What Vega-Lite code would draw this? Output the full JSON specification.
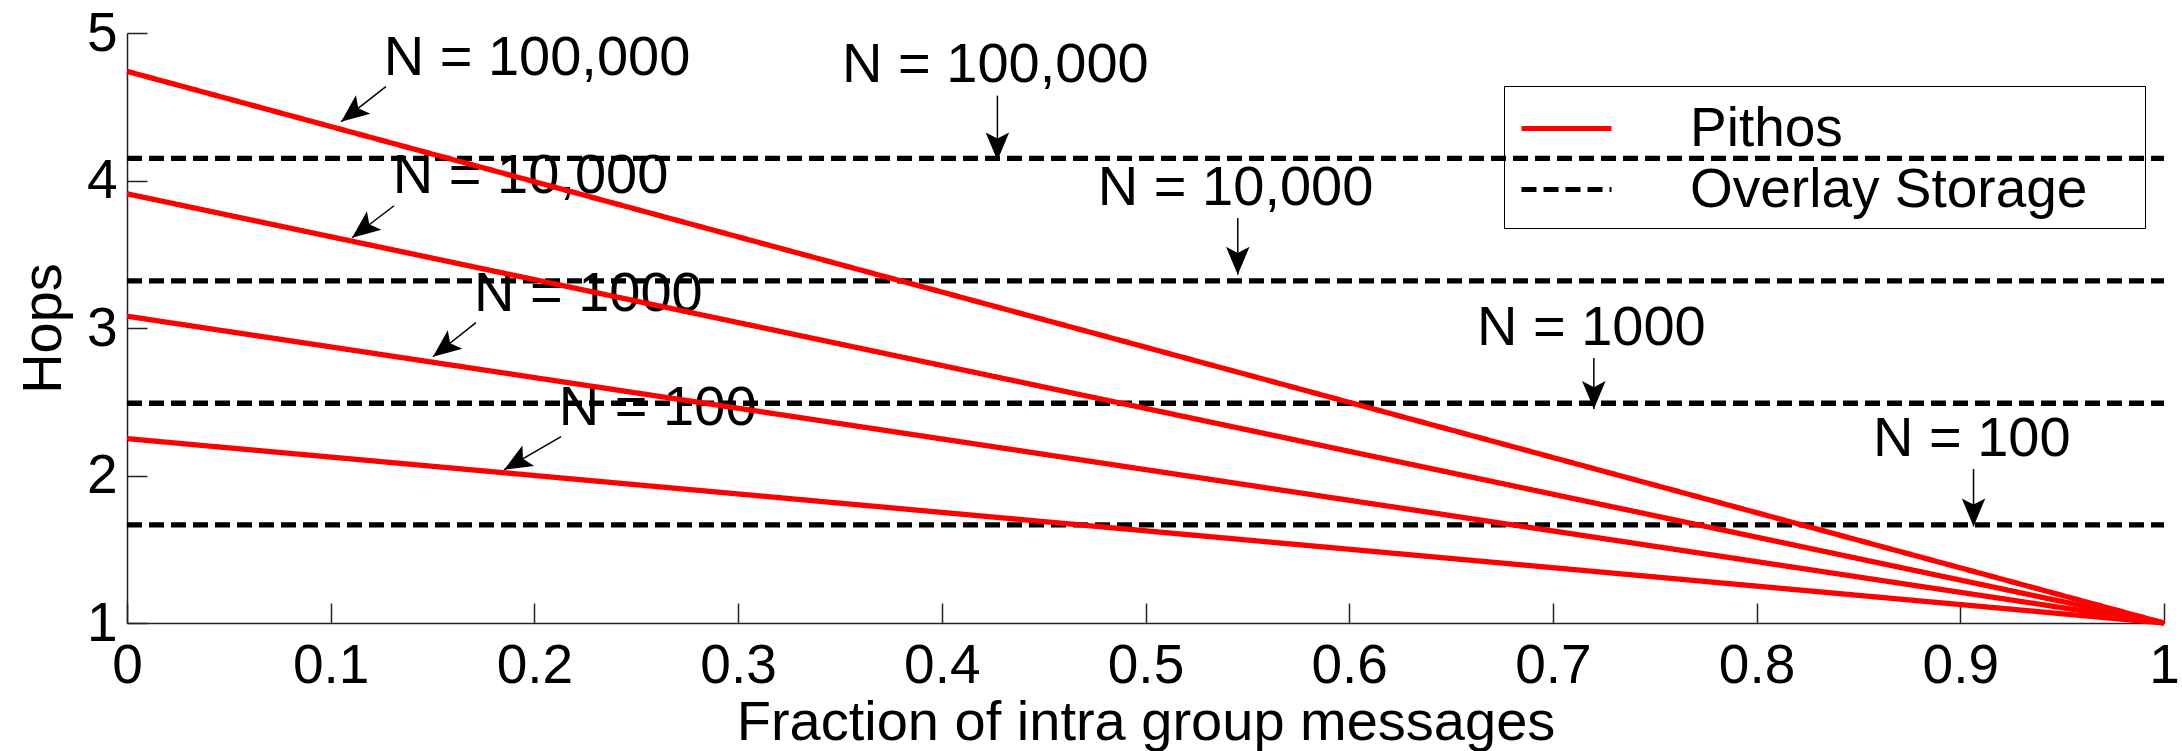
{
  "$schema": "https://vega.github.io/schema/vega-lite/v6.json",
  "width": 2037,
  "height": 590,
  "autosize": {"type": "none"},
  "padding": {"left": 127, "top": 33, "right": 18, "bottom": 128},
  "background": "white",
  "config": {
    "view": {"stroke": null},
    "font": "Liberation Sans",
    "axisX": {
      "labelFontSize": 55,
      "labelColor": "black",
      "tickSize": -20,
      "labelPadding": 36,
      "labelFlush": false,
      "labelOverlap": false,
      "grid": false,
      "domainColor": "#222",
      "tickColor": "#222",
      "domainWidth": 1.5,
      "tickWidth": 1.5,
      "titleFontSize": 56,
      "titleFontWeight": "normal",
      "titleColor": "black",
      "titlePadding": 2
    },
    "axisY": {
      "labelFontSize": 55,
      "labelColor": "black",
      "tickSize": -20,
      "labelPadding": 30,
      "labelFlush": false,
      "labelOverlap": false,
      "grid": false,
      "domainColor": "#222",
      "tickColor": "#222",
      "domainWidth": 1.5,
      "tickWidth": 1.5,
      "titleFontSize": 56,
      "titleFontWeight": "normal",
      "titleColor": "black",
      "titlePadding": 14
    }
  },
  "datasets": {
    "lines": [
      {"method": "Overlay Storage", "N": 100000, "x": 0, "y": 4.15},
      {"method": "Overlay Storage", "N": 100000, "x": 1, "y": 4.15},
      {"method": "Overlay Storage", "N": 10000, "x": 0, "y": 3.32},
      {"method": "Overlay Storage", "N": 10000, "x": 1, "y": 3.32},
      {"method": "Overlay Storage", "N": 1000, "x": 0, "y": 2.49},
      {"method": "Overlay Storage", "N": 1000, "x": 1, "y": 2.49},
      {"method": "Overlay Storage", "N": 100, "x": 0, "y": 1.665},
      {"method": "Overlay Storage", "N": 100, "x": 1, "y": 1.665},
      {"method": "Pithos", "N": 100000, "x": 0, "y": 4.74},
      {"method": "Pithos", "N": 100000, "x": 1, "y": 1},
      {"method": "Pithos", "N": 10000, "x": 0, "y": 3.91},
      {"method": "Pithos", "N": 10000, "x": 1, "y": 1},
      {"method": "Pithos", "N": 1000, "x": 0, "y": 3.08},
      {"method": "Pithos", "N": 1000, "x": 1, "y": 1},
      {"method": "Pithos", "N": 100, "x": 0, "y": 2.25},
      {"method": "Pithos", "N": 100, "x": 1, "y": 1}
    ],
    "labels": [
      {"group": "Pithos", "label": "N = 100,000", "x": 0.126, "y": 4.717},
      {"group": "Pithos", "label": "N = 10,000", "x": 0.1305, "y": 3.917},
      {"group": "Pithos", "label": "N = 1000", "x": 0.1703, "y": 3.117},
      {"group": "Pithos", "label": "N = 100", "x": 0.212, "y": 2.344},
      {"group": "Overlay Storage", "label": "N = 100,000", "x": 0.351, "y": 4.665},
      {"group": "Overlay Storage", "label": "N = 10,000", "x": 0.4766, "y": 3.831},
      {"group": "Overlay Storage", "label": "N = 1000", "x": 0.6627, "y": 2.882},
      {"group": "Overlay Storage", "label": "N = 100", "x": 0.8571, "y": 2.129}
    ],
    "arrows": [
      {"group": "Pithos", "N": 100000, "xs": 0.1271, "ys": 4.636, "x": 0.1051, "y": 4.399},
      {"group": "Pithos", "N": 10000, "xs": 0.1311, "ys": 3.829, "x": 0.1105, "y": 3.612},
      {"group": "Pithos", "N": 1000, "xs": 0.1713, "ys": 3.036, "x": 0.1502, "y": 2.805},
      {"group": "Pithos", "N": 100, "xs": 0.2131, "ys": 2.263, "x": 0.1851, "y": 2.039},
      {"group": "Overlay Storage", "N": 100000, "xs": 0.4273, "ys": 4.575, "x": 0.4273, "y": 4.136},
      {"group": "Overlay Storage", "N": 10000, "xs": 0.5453, "ys": 3.746, "x": 0.5453, "y": 3.361},
      {"group": "Overlay Storage", "N": 1000, "xs": 0.7201, "ys": 2.797, "x": 0.7201, "y": 2.451},
      {"group": "Overlay Storage", "N": 100, "xs": 0.9065, "ys": 2.044, "x": 0.9065, "y": 1.655}
    ]
  },
  "encoding": {
    "x": {
      "field": "x", "type": "quantitative", "title": "Fraction of intra group messages",
      "scale": {"domain": [0, 1], "nice": false, "zero": false},
      "axis": {"values": [0, 0.1, 0.2, 0.3, 0.4, 0.5, 0.6, 0.7, 0.8, 0.9, 1], "format": "~g"}
    },
    "y": {
      "field": "y", "type": "quantitative", "title": "Hops",
      "scale": {"domain": [1, 5], "nice": false, "zero": false},
      "axis": {"values": [1, 2, 3, 4, 5], "format": "d"}
    }
  },
  "layer": [
    {
      "data": {"name": "labels"},
      "mark": {"type": "text", "align": "left", "baseline": "alphabetic", "fontSize": 56, "color": "black"},
      "encoding": {"text": {"field": "label"}}
    },
    {
      "data": {"name": "arrows"},
      "mark": {"type": "rule", "color": "black", "strokeWidth": 1.5},
      "encoding": {"x2": {"field": "xs"}, "y2": {"field": "ys"}}
    },
    {
      "data": {"name": "arrows"},
      "transform": [{"filter": "datum.group == 'Overlay Storage'"}],
      "mark": {"type": "point", "shape": "M0,0L-0.42,-1L0,-0.78L0.42,-1Z", "filled": true, "color": "black", "opacity": 1, "size": 3136, "angle": 0}
    },
    {
      "data": {"name": "arrows"},
      "transform": [{"filter": "datum.group == 'Pithos' && datum.N != 100"}],
      "mark": {"type": "point", "shape": "M0,0L-0.42,-1L0,-0.78L0.42,-1Z", "filled": true, "color": "black", "opacity": 1, "size": 3136, "angle": 52}
    },
    {
      "data": {"name": "arrows"},
      "transform": [{"filter": "datum.group == 'Pithos' && datum.N == 100"}],
      "mark": {"type": "point", "shape": "M0,0L-0.42,-1L0,-0.78L0.42,-1Z", "filled": true, "color": "black", "opacity": 1, "size": 3136, "angle": 60}
    },
    {
      "data": {"name": "lines"},
      "transform": [{"filter": "datum.method == 'Overlay Storage'"}],
      "mark": {"type": "line", "strokeWidth": 5.3},
      "encoding": {
        "detail": {"field": "N"},
        "color": {
          "field": "method", "type": "nominal",
          "scale": {"domain": ["Pithos", "Overlay Storage"], "range": ["#ff0000", "#000000"]},
          "legend": {"orient": "none", "legendX": 1377, "legendY": 53, "title": null, "symbolType": "M-1.5,0H1.5M18.6,0", "symbolSize": 3600, "symbolOffset": 20, "symbolStrokeWidth": 5, "labelFontSize": 55, "labelColor": "black", "labelOffset": 91, "labelLimit": 1000, "strokeColor": "black", "padding": 10, "rowPadding": -9}
        },
        "strokeDash": {
          "field": "method", "type": "nominal",
          "scale": {"domain": ["Pithos", "Overlay Storage"], "range": [[1, 0], [15, 7]]},
          "legend": {"orient": "none", "legendX": 1377, "legendY": 53, "title": null, "symbolType": "M-1.5,0H1.5M18.6,0", "symbolSize": 3600, "symbolOffset": 20, "symbolStrokeWidth": 5, "labelFontSize": 55, "labelColor": "black", "labelOffset": 91, "labelLimit": 1000, "strokeColor": "black", "padding": 10, "rowPadding": -9}
        }
      }
    },
    {
      "data": {"name": "lines"},
      "transform": [{"filter": "datum.method == 'Pithos'"}],
      "mark": {"type": "line", "strokeWidth": 5.3},
      "encoding": {
        "detail": {"field": "N"},
        "color": {"field": "method", "type": "nominal"},
        "strokeDash": {"field": "method", "type": "nominal"}
      }
    }
  ]
}
